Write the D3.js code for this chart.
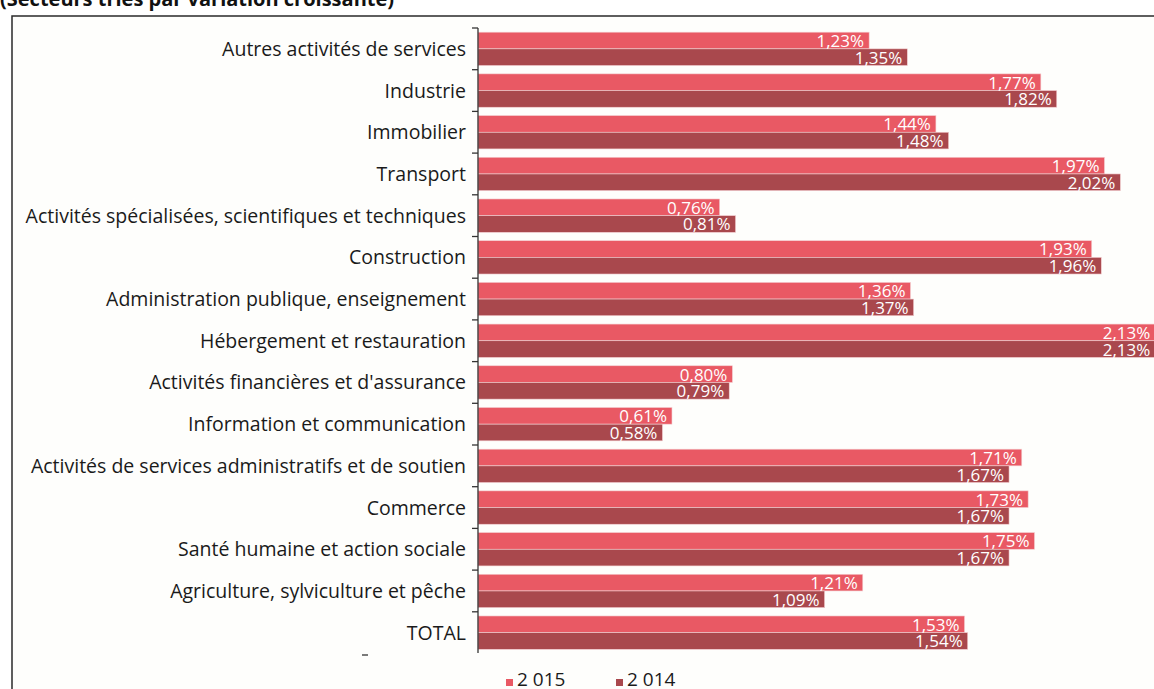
<!DOCTYPE html>
<html>
<head>
<meta charset="utf-8">
<script src="https://cdn.jsdelivr.net/npm/d3@7"></script>
<style>
  body { margin: 0; background: #ffffff; overflow: hidden; }
  svg { display: block; }
</style>
</head>
<body>
<div id="container"></div>
<script>
var WIDTH = 1154;
var HEIGHT = 689;

// Secteurs, du haut vers le bas
const categories = [
  'Autres activités de services',
  'Industrie',
  'Immobilier',
  'Transport',
  'Activités spécialisées, scientifiques et techniques',
  'Construction',
  'Administration publique, enseignement',
  'Hébergement et restauration',
  "Activités financières et d'assurance",
  'Information et communication',
  'Activités de services administratifs et de soutien',
  'Commerce',
  'Santé humaine et action sociale',
  'Agriculture, sylviculture et pêche',
  'TOTAL'
];

const values2015 = [1.23, 1.77, 1.44, 1.97, 0.76, 1.93, 1.36, 2.13, 0.80, 0.61, 1.71, 1.73, 1.75, 1.21, 1.53];
const values2014 = [1.35, 1.82, 1.48, 2.02, 0.81, 1.96, 1.37, 2.13, 0.79, 0.58, 1.67, 1.67, 1.67, 1.09, 1.54];

const seriesNames = ['2 015', '2 014'];
const seriesColors = ['#e95964', '#a9484d'];

const FONT = '"Open Sans", Lato, sans-serif';

const svg = d3.select('#container')
  .append('svg')
    .attr('width', WIDTH)
    .attr('height', HEIGHT);

svg.append('rect')
   .attr('width', WIDTH)
   .attr('height', HEIGHT)
   .attr('fill', '#ffffff');

// titre coupé en haut
svg.append('text')
   .attr('x', 0)
   .attr('y', 6)
   .text('(Secteurs triés par variation croissante)')
   .style('font-family', FONT)
   .style('font-weight', 'bold')
   .style('font-size', '20px')
   .attr('fill', '#111');

// cadre
svg.append('rect')
   .attr('x', 12)
   .attr('y', 16)
   .attr('width', WIDTH + 10)
   .attr('height', HEIGHT + 10)
   .attr('fill', '#fefefc')
   .attr('stroke', '#2a2a2a')
   .attr('stroke-width', 1.5);

const x = d3.scaleLinear()
  .domain([0, 2.13])
  .range([478, 478 + 2.13 * 318]);

const y = d3.scaleBand()
  .domain(categories)
  .range([28, 653.5])
  .paddingInner(0.2)
  .paddingOuter(0.1);

const ySeries = d3.scaleBand()
  .domain(seriesNames)
  .range([0, y.bandwidth()]);

const rows = categories.map((c, i) => ({
  name: c,
  bars: [
    { key: seriesNames[0], value: values2015[i], color: seriesColors[0] },
    { key: seriesNames[1], value: values2014[i], color: seriesColors[1] }
  ]
}));

const fmt = v => d3.format('.2f')(v).replace('.', ',') + '%';

const groups = svg.selectAll('.row')
  .data(rows)
  .enter()
  .append('g')
  .attr('class', 'row')
  .attr('transform', d => `translate(0, ${y(d.name)})`);

groups.selectAll('rect')
  .data(d => d.bars)
  .enter()
  .append('rect')
  .attr('x', x(0))
  .attr('y', d => ySeries(d.key))
  .attr('width', d => x(d.value) - x(0))
  .attr('height', ySeries.bandwidth())
  .attr('fill', d => d.color)
  .attr('stroke', '#f4d0d2')
  .attr('stroke-width', 0.6);

groups.selectAll('.val')
  .data(d => d.bars)
  .enter()
  .append('text')
  .attr('class', 'val')
  .attr('x', d => x(d.value) - 5)
  .attr('y', d => ySeries(d.key) + ySeries.bandwidth() / 2)
  .attr('dy', '0.38em')
  .attr('text-anchor', 'end')
  .attr('fill', '#ffffff')
  .style('font-family', FONT)
  .style('font-size', '17px')
  .text(d => fmt(d.value));

// axe vertical avec graduations entre les catégories
const step = y.step();
const tickYs = d3.range(categories.length).map(i => y(categories[i]) - step * 0.1);

svg.append('line')
   .attr('x1', x(0)).attr('x2', x(0))
   .attr('y1', 28).attr('y2', 653)
   .attr('stroke', '#333')
   .attr('stroke-width', 1.3);

svg.selectAll('.tick')
   .data(tickYs)
   .enter()
   .append('line')
   .attr('class', 'tick')
   .attr('x1', x(0) - 6).attr('x2', x(0))
   .attr('y1', d => d).attr('y2', d => d)
   .attr('stroke', '#333')
   .attr('stroke-width', 1.3);

// petit trait isolé en bas à gauche
svg.append('line')
   .attr('x1', 362).attr('x2', 368)
   .attr('y1', 655).attr('y2', 655)
   .attr('stroke', '#333')
   .attr('stroke-width', 1.3);

svg.selectAll('.cat')
   .data(categories)
   .enter()
   .append('text')
   .attr('class', 'cat')
   .attr('x', 466)
   .attr('y', d => y(d) + y.bandwidth() / 2)
   .attr('dy', '0.36em')
   .attr('text-anchor', 'end')
   .attr('fill', '#1a1a1a')
   .style('font-family', FONT)
   .style('font-size', '19.5px')
   .text(d => d);

// légende
const legend = svg.selectAll('.legend')
  .data(seriesNames)
  .enter()
  .append('g')
  .attr('class', 'legend')
  .attr('transform', (d, i) => `translate(${506 + i * 110}, 0)`);

legend.append('rect')
  .attr('x', 0)
  .attr('y', 679)
  .attr('width', 7)
  .attr('height', 7)
  .attr('fill', (d, i) => seriesColors[i]);

legend.append('text')
  .attr('x', 11)
  .attr('y', 686)
  .attr('fill', '#1a1a1a')
  .style('font-family', FONT)
  .style('font-size', '19px')
  .text(d => d);
</script>
</body>
</html>
